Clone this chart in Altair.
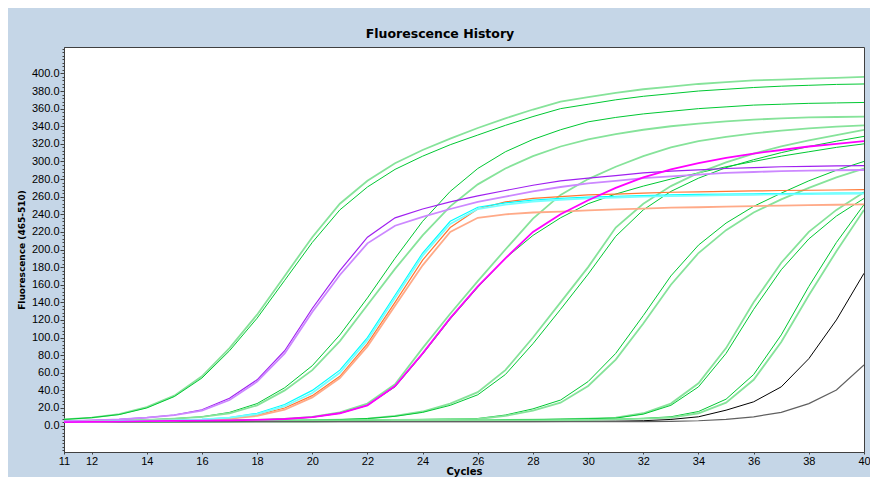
import altair as alt
import pandas as pd

cycles = list(range(11, 41))

# green pair 1 (earliest)
g1a = [7, 9, 13, 21, 34, 56, 88, 126, 170, 214, 252, 278, 298, 313, 326, 338, 349, 359, 368, 373, 378, 382, 385, 388, 390, 392, 393, 394, 395, 396]
g1b = [7, 9, 12.5, 20, 33, 54, 85, 122, 165, 208, 245, 271, 291, 306, 319, 330, 341, 351, 360, 365, 370, 374, 377, 380, 382, 384, 385.5, 386.5, 387.5, 388]
# purple pair
pua = [5, 6, 7, 9, 12, 18, 31, 52, 85, 133, 176, 214, 236, 246, 254, 261, 267, 273, 278, 281, 284, 287, 289, 290.5, 292, 293, 294, 294.5, 295, 295.3]
pub = [5, 6, 7, 9, 12, 17, 29, 50, 82, 129, 171, 207, 227, 237, 246, 254, 260, 266, 271, 275, 278, 281, 283, 285, 287, 288, 289, 289.5, 290, 290.3]
# green pair 2
g2a = [4, 5, 5.5, 6.5, 8, 10, 15, 25, 43, 68, 103, 145, 190, 232, 266, 292, 311, 325, 336, 345, 350, 354, 357, 360, 362, 364, 365, 366, 366.5, 367]
g2b = [4, 5, 5.5, 6.5, 8, 10, 14, 23, 40, 63, 96, 137, 178, 216, 249, 274, 292, 306, 317, 325, 331, 336, 340, 343, 345.5, 347.5, 349, 350, 350.5, 351]
# cyan pair
cya = [4, 4.5, 5, 5.5, 6, 7, 9, 14, 24, 40, 63, 100, 148, 196, 232, 248, 253, 256, 258, 259.5, 260.5, 261.3, 262, 262.5, 263, 263.3, 263.6, 263.8, 264, 264.2]
cyb = [4, 4.5, 5, 5.5, 6, 7, 9, 13, 22, 37, 60, 97, 145, 193, 229, 246, 251, 254.5, 256.5, 258, 259, 260, 260.7, 261.3, 261.8, 262.2, 262.6, 263, 263.3, 263.5]
# orange pair
ora = [4, 4.5, 5, 5.5, 6, 6.5, 8, 12, 20, 34, 56, 93, 140, 188, 225, 246, 254, 258, 260, 262, 263, 264, 265, 265.5, 266, 266.5, 267, 267.3, 267.6, 268]
orb = [4, 4.5, 5, 5.5, 6, 6.5, 8, 11, 18, 32, 54, 90, 136, 182, 220, 236, 240, 242, 243, 244.5, 245.5, 246.5, 247.5, 248, 248.7, 249.3, 249.8, 250.3, 250.8, 251.3]
# green pair 3 with magenta
g3a = [4, 4.3, 4.6, 5, 5.3, 5.6, 6, 6.5, 7.5, 10, 15, 25, 47, 88, 127, 164, 200, 235, 262, 280, 294, 306, 316, 323, 328, 332, 335, 337.5, 339.5, 341]
g3b = [4, 4.3, 4.6, 5, 5.3, 5.6, 6, 6.5, 7.5, 9.5, 14, 23, 44, 81, 121, 157, 190, 216, 236, 252, 263, 272, 280, 287, 294, 300, 306, 311, 316, 320]
mag = [4, 4.3, 4.6, 5, 5.3, 5.6, 6, 6.5, 7.5, 9.5, 14, 23, 45, 82, 122, 158, 190, 220, 240, 256, 270, 282, 291, 298, 304, 309, 313, 317, 320, 323]
# green pair 4
g4a = [4, 4.2, 4.4, 4.6, 4.8, 5, 5.2, 5.5, 5.8, 6.2, 6.8, 8, 11, 16, 25, 38, 63, 100, 140, 180, 225, 252, 272, 287, 299, 309, 317, 324, 330, 336]
g4b = [4, 4.2, 4.4, 4.6, 4.8, 5, 5.2, 5.5, 5.8, 6.2, 6.8, 8, 10.5, 15, 23, 35, 58, 93, 132, 172, 215, 245, 266, 281, 293, 302, 310, 317, 323, 328.5]
# green pair 5
g5a = [4, 4.2, 4.4, 4.6, 4.8, 5, 5.2, 5.4, 5.6, 5.8, 6, 6.3, 6.6, 7, 7.5, 8, 12, 19, 29, 50, 82, 125, 170, 205, 230, 249, 264, 278, 290, 300]
g5b = [4, 4.2, 4.4, 4.6, 4.8, 5, 5.2, 5.4, 5.6, 5.8, 6, 6.2, 6.5, 6.8, 7.2, 7.5, 11, 17, 26, 45, 75, 116, 160, 196, 222, 242, 257, 270, 282, 292]
# green pair 6
g6a = [4, 4.1, 4.2, 4.3, 4.4, 4.5, 4.6, 4.7, 4.8, 4.9, 5, 5.2, 5.4, 5.6, 5.8, 6, 6.4, 6.8, 7.4, 8, 9, 14, 25, 48, 88, 140, 185, 220, 245, 265]
g6b = [4, 4.1, 4.2, 4.3, 4.4, 4.5, 4.6, 4.7, 4.8, 4.9, 5, 5.2, 5.4, 5.6, 5.8, 6, 6.3, 6.7, 7.2, 7.8, 8.5, 13, 23, 44, 82, 132, 177, 212, 238, 258]
# green pair 7
g7a = [4, 4.1, 4.2, 4.3, 4.4, 4.5, 4.6, 4.7, 4.8, 4.9, 5, 5.1, 5.2, 5.3, 5.4, 5.5, 5.7, 5.9, 6.2, 6.6, 7.2, 8.2, 10, 16, 30, 58, 103, 158, 208, 251]
g7b = [4, 4.1, 4.2, 4.3, 4.4, 4.5, 4.6, 4.7, 4.8, 4.9, 5, 5.1, 5.2, 5.3, 5.4, 5.5, 5.7, 5.9, 6.1, 6.5, 7, 8, 9, 14, 26, 52, 95, 148, 198, 245]
# black (negative controls)
bka = [4.5, 4.5, 4.5, 4.5, 4.5, 4.5, 4.5, 4.5, 4.5, 4.5, 4.5, 4.5, 4.5, 4.5, 4.5, 4.5, 4.5, 4.5, 4.6, 4.7, 5, 5.5, 7, 10, 17.5, 27, 44, 76, 120, 173]
bkb = [4.5, 4.5, 4.5, 4.5, 4.5, 4.5, 4.5, 4.5, 4.5, 4.5, 4.5, 4.5, 4.5, 4.5, 4.5, 4.5, 4.5, 4.5, 4.5, 4.5, 4.5, 4.6, 4.8, 5.5, 7, 10, 15, 25, 40.5, 69]

LIGHT_G = "#86e39a"
DARK_G = "#00c832"

series = [
    ("g1a", g1a, LIGHT_G, 1.8), ("g1b", g1b, DARK_G, 1.0),
    ("g2a", g2a, DARK_G, 1.0), ("g2b", g2b, LIGHT_G, 1.8),
    ("g3a", g3a, LIGHT_G, 1.8), ("g3b", g3b, DARK_G, 1.0),
    ("g4a", g4a, LIGHT_G, 1.8), ("g4b", g4b, DARK_G, 1.0),
    ("g5a", g5a, DARK_G, 1.0), ("g5b", g5b, LIGHT_G, 1.8),
    ("g6a", g6a, LIGHT_G, 1.8), ("g6b", g6b, DARK_G, 1.0),
    ("g7a", g7a, DARK_G, 1.0), ("g7b", g7b, LIGHT_G, 1.8),
    ("bka", bka, "#000000", 1.0), ("bkb", bkb, "#606060", 1.2),
    ("pua", pua, "#a020f0", 1.2), ("pub", pub, "#cc88ff", 1.8),
    ("ora", ora, "#ff7733", 1.2), ("orb", orb, "#ffaa88", 1.8),
    ("cya", cya, "#00ffff", 1.2), ("cyb", cyb, "#77ffff", 1.8),
    ("mag", mag, "#ff00ff", 1.8),
]

rows = []
for name, vals, col, w in series:
    for c, v in zip(cycles, vals):
        rows.append({"series": name, "cycle": c, "value": v, "w": w})
df = pd.DataFrame(rows)

names = [s[0] for s in series]
colors = [s[2] for s in series]

x_ticks = [11, 12, 14, 16, 18, 20, 22, 24, 26, 28, 30, 32, 34, 36, 38, 40]
y_ticks = list(range(0, 401, 20))
y_minor = list(range(-28, 430, 4))

xscale = alt.Scale(domain=[11, 40], nice=False, zero=False)
yscale = alt.Scale(domain=[-30, 430], nice=False, zero=False)

lines = alt.Chart(df).mark_line(clip=True).encode(
    x=alt.X("cycle:Q", scale=xscale,
            axis=alt.Axis(values=x_ticks, title="Cycles", grid=False, tickSize=2,
                          labelFont="Liberation Sans", labelFontSize=11, labelColor="#000",
                          labelPadding=1, labelFlush=False,
                          titleFont="DejaVu Sans", titleFontSize=10, titleFontWeight="bold",
                          titleColor="#000", titlePadding=0,
                          domainColor="#404040", tickColor="#404040")),
    y=alt.Y("value:Q", scale=yscale,
            axis=alt.Axis(values=y_ticks, format=".1f", title="Fluorescence (465-510)",
                          grid=False, tickSize=4, orient="left",
                          labelFont="Liberation Sans", labelFontSize=11, labelColor="#000",
                          labelPadding=1,
                          titleFont="DejaVu Sans", titleFontSize=9, titleFontWeight="bold",
                          titleColor="#000", titlePadding=5,
                          domainColor="#404040", tickColor="#404040")),
    color=alt.Color("series:N", scale=alt.Scale(domain=names, range=colors), legend=None),
    strokeWidth=alt.StrokeWidth("w:Q", scale=None),
)

minor = alt.Chart(df).mark_line(opacity=0).encode(
    x=alt.X("cycle:Q", scale=xscale),
    y=alt.Y("value:Q", scale=yscale,
            axis=alt.Axis(values=y_minor, orient="left", labels=False, title=None,
                          domain=False, grid=False, tickSize=2, tickColor="#404040")),
    detail="series:N",
)

chart = alt.layer(lines, minor).resolve_axis(y="independent").properties(
    width=800,
    height=405,
    autosize=alt.AutoSizeParams(type="none"),
    padding={"left": 56, "top": 39, "right": 6, "bottom": 25},
    background="#c5d6e7",
    title=alt.TitleParams("Fluorescence History", font="DejaVu Sans", fontSize=12.5,
                          fontWeight="bold", color="#000", anchor="middle",
                          dx=-24, offset=7),
).configure_view(fill="white", stroke="#404040", strokeWidth=1)

chart.save("out.html", embed_options={"renderer": "svg", "actions": False})
